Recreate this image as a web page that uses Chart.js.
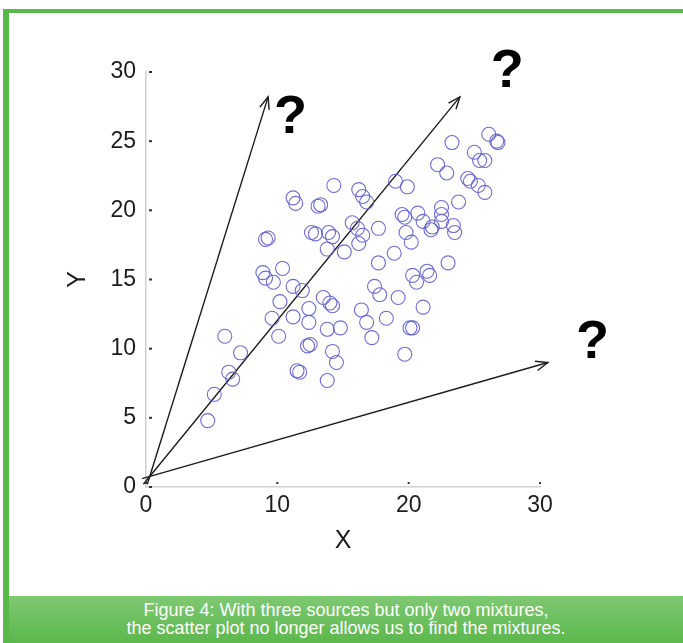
<!DOCTYPE html>
<html>
<head>
<meta charset="utf-8">
<script src="https://cdn.jsdelivr.net/npm/chart.js@4.4.0/dist/chart.umd.min.js"></script>
<style>
  html, body { margin: 0; padding: 0; background: #fff; }
  body { width: 683px; height: 643px; position: relative; overflow: hidden; font-family: "Liberation Sans", Arial, sans-serif; }
  #frame-top { position: absolute; left: 3px; top: 9px; width: 680px; height: 4px; background: #56b948; }
  #frame-left { position: absolute; left: 3px; top: 9px; width: 6px; height: 634px; background: #56b948; }
  #caption {
    position: absolute; left: 9px; top: 596px; width: 674px; height: 47px;
    background: linear-gradient(#80c874, #5bb84b);
    color: #fff; text-align: center; font-size: 18px; line-height: 18px;
    padding-top: 5px; box-sizing: border-box;
  }
  #wrap { position: absolute; left: 0; top: 0; width: 683px; height: 643px; }
</style>
</head>
<body>
<div id="frame-top"></div>
<div id="frame-left"></div>
<div id="caption">Figure 4: With three sources but only two mixtures,<br>the scatter plot no longer allows us to find the mixtures.</div>
<div id="wrap"><canvas id="fig4" width="683" height="643"></canvas></div>
<script>
(function () {
  // scatter values
  const pointsX = [4.7, 5.2, 6.3, 6.6, 6.0, 7.2, 8.9, 9.1, 10.4, 9.7, 9.1, 9.3, 11.2, 11.4, 13.1, 13.3,
    14.3, 12.6, 12.9, 13.9, 14.2, 13.8, 15.1, 11.2, 11.9, 10.2, 9.6, 10.1, 11.2, 12.4, 12.4, 13.5,
    14.0, 14.2, 13.8, 14.8, 12.3, 12.5, 14.2, 14.5, 11.5, 11.7, 13.8, 15.7, 16.1, 16.5, 16.2, 16.2,
    16.5, 16.8, 17.7, 19.0, 19.9, 19.5, 19.7, 20.7, 21.1, 21.8, 21.7, 22.5, 23.4, 23.5, 19.8, 20.2,
    18.9, 17.7, 23.0, 22.5, 22.5, 23.8, 23.3, 26.1, 26.7, 26.8, 25.0, 25.4, 25.8, 22.2, 22.9, 24.5,
    24.7, 25.3, 25.8, 20.3, 21.4, 21.6, 17.4, 17.8, 19.2, 16.4, 16.8, 18.3, 21.1, 20.1, 20.3, 17.2,
    19.7, 20.6];
  const pointsY = [4.8, 6.7, 8.3, 7.8, 10.9, 9.7, 15.5, 15.1, 15.8, 14.8, 17.9, 18.0, 20.9, 20.5, 20.3, 20.4,
    21.8, 18.4, 18.3, 18.4, 18.1, 17.2, 17.0, 14.5, 14.2, 13.4, 12.2, 10.9, 12.3, 12.9, 11.9, 13.7,
    13.3, 13.1, 11.4, 11.5, 10.2, 10.3, 9.8, 9.0, 8.4, 8.3, 7.7, 19.1, 18.7, 18.2, 17.6, 21.5,
    21.0, 20.6, 18.7, 22.1, 21.7, 19.7, 19.5, 19.8, 19.2, 18.8, 18.6, 19.2, 18.9, 18.4, 18.4, 17.7,
    16.9, 16.2, 16.2, 20.2, 19.7, 20.6, 24.9, 25.5, 25.0, 24.9, 24.2, 23.6, 23.6, 23.3, 22.7, 22.3,
    22.1, 21.8, 21.3, 15.3, 15.6, 15.3, 14.5, 13.9, 13.7, 12.8, 11.9, 12.2, 13.0, 11.5, 11.5, 10.8,
    9.6, 14.8];

  // the three candidate directions, from near the origin
  const arrowTails = [[0.1, 0.2], [-0.2, 0.2], [-0.3, 0.6]];
  const arrowTips = [[9.3, 28.2], [23.9, 28.2], [30.6, 9.0]];
  const arrowMarks = ["?", "?", "?"];
  const markAt = [[11.0, 26.7], [27.5, 30.0], [34.0, 10.4]];

  const xTickValues = [0, 10, 20, 30];
  const yTickValues = [0, 5, 10, 15, 20, 25, 30];

  const FONT = "'Liberation Sans', Arial, sans-serif";
  const INK = "#1c1c1c";

  const scatter = pointsX.map((x, i) => ({ x: x, y: pointsY[i] }));

  const arrowSets = arrowTips.map((tip, i) => ({
    type: "line",
    label: "arrow" + i,
    data: [{ x: arrowTails[i][0], y: arrowTails[i][1] }, { x: tip[0], y: tip[1] }],
    borderColor: INK,
    borderWidth: 1.4,
    pointRadius: 0,
    fill: false,
    clip: false,
    isArrow: true,
  }));

  const extras = {
    id: "extras",
    afterDatasetsDraw(chart) {
      const ctx = chart.ctx;
      const xs = chart.scales.x, ys = chart.scales.y;
      const area = chart.chartArea;
      ctx.save();

      // small tick marks just inside the axes
      ctx.fillStyle = "#333";
      yTickValues.forEach((v) => {
        const py = ys.getPixelForValue(v);
        ctx.fillRect(area.left + 3, py - 1, 3, 2);
      });
      xTickValues.forEach((v) => {
        const px = xs.getPixelForValue(v);
        ctx.fillRect(px - 1, area.bottom - 5, 2, 2);
      });

      // arrow heads
      ctx.strokeStyle = INK;
      ctx.lineWidth = 1.4;
      chart.data.datasets.forEach((ds, i) => {
        if (!ds.isArrow) return;
        const pts = chart.getDatasetMeta(i).data;
        const a = pts[0], b = pts[pts.length - 1];
        const ang = Math.atan2(b.y - a.y, b.x - a.x);
        const len = 13, spread = 0.38;
        ctx.beginPath();
        ctx.moveTo(b.x - len * Math.cos(ang - spread), b.y - len * Math.sin(ang - spread));
        ctx.lineTo(b.x, b.y);
        ctx.lineTo(b.x - len * Math.cos(ang + spread), b.y - len * Math.sin(ang + spread));
        ctx.stroke();
      });

      // question marks
      ctx.fillStyle = "#000";
      ctx.font = "bold 54px 'Liberation Sans Narrow', " + FONT;
      ctx.textAlign = "center";
      ctx.textBaseline = "middle";
      arrowMarks.forEach((m, i) => {
        ctx.fillText(m, xs.getPixelForValue(markAt[i][0]), ys.getPixelForValue(markAt[i][1]));
      });
      ctx.restore();
    },
  };

  new Chart(document.getElementById("fig4"), {
    type: "scatter",
    data: {
      datasets: [
        {
          label: "mixtures",
          data: scatter,
          pointStyle: "circle",
          pointRadius: 7,
          pointHoverRadius: 7,
          borderColor: "rgba(92, 92, 205, 0.9)",
          backgroundColor: "rgba(0,0,0,0)",
          borderWidth: 1.1,
        },
        ...arrowSets,
      ],
    },
    options: {
      responsive: false,
      animation: false,
      devicePixelRatio: 1,
      layout: { padding: { left: 60, top: 72, right: 143, bottom: 86 } },
      plugins: { legend: { display: false }, tooltip: { enabled: false } },
      scales: {
        x: {
          type: "linear",
          min: 0,
          max: 30,
          afterBuildTicks: (s) => { s.ticks = xTickValues.map((v) => ({ value: v })); },
          afterFit: (s) => { s.height = 70; },
          grid: { display: false, drawTicks: false },
          border: { display: true, color: "#d0d0d0", width: 1.5 },
          ticks: { padding: 5, color: INK, font: { family: FONT, size: 23 }, maxRotation: 0 },
          title: { display: true, text: "X", color: INK, font: { family: FONT, size: 25 }, padding: { top: 0, bottom: 1 } },
        },
        y: {
          type: "linear",
          min: 0,
          max: 30,
          afterBuildTicks: (s) => { s.ticks = yTickValues.map((v) => ({ value: v })); },
          afterFit: (s) => { s.width = 86; },
          grid: { display: false, drawTicks: false },
          border: { display: true, color: "#d0d0d0", width: 1.5 },
          ticks: { padding: 10, color: INK, font: { family: FONT, size: 23 } },
          title: { display: true, text: "Y", color: INK, font: { family: FONT, size: 25 }, padding: { top: 3, bottom: 0 } },
        },
      },
    },
    plugins: [extras],
  });
})();
</script>
</body>
</html>
